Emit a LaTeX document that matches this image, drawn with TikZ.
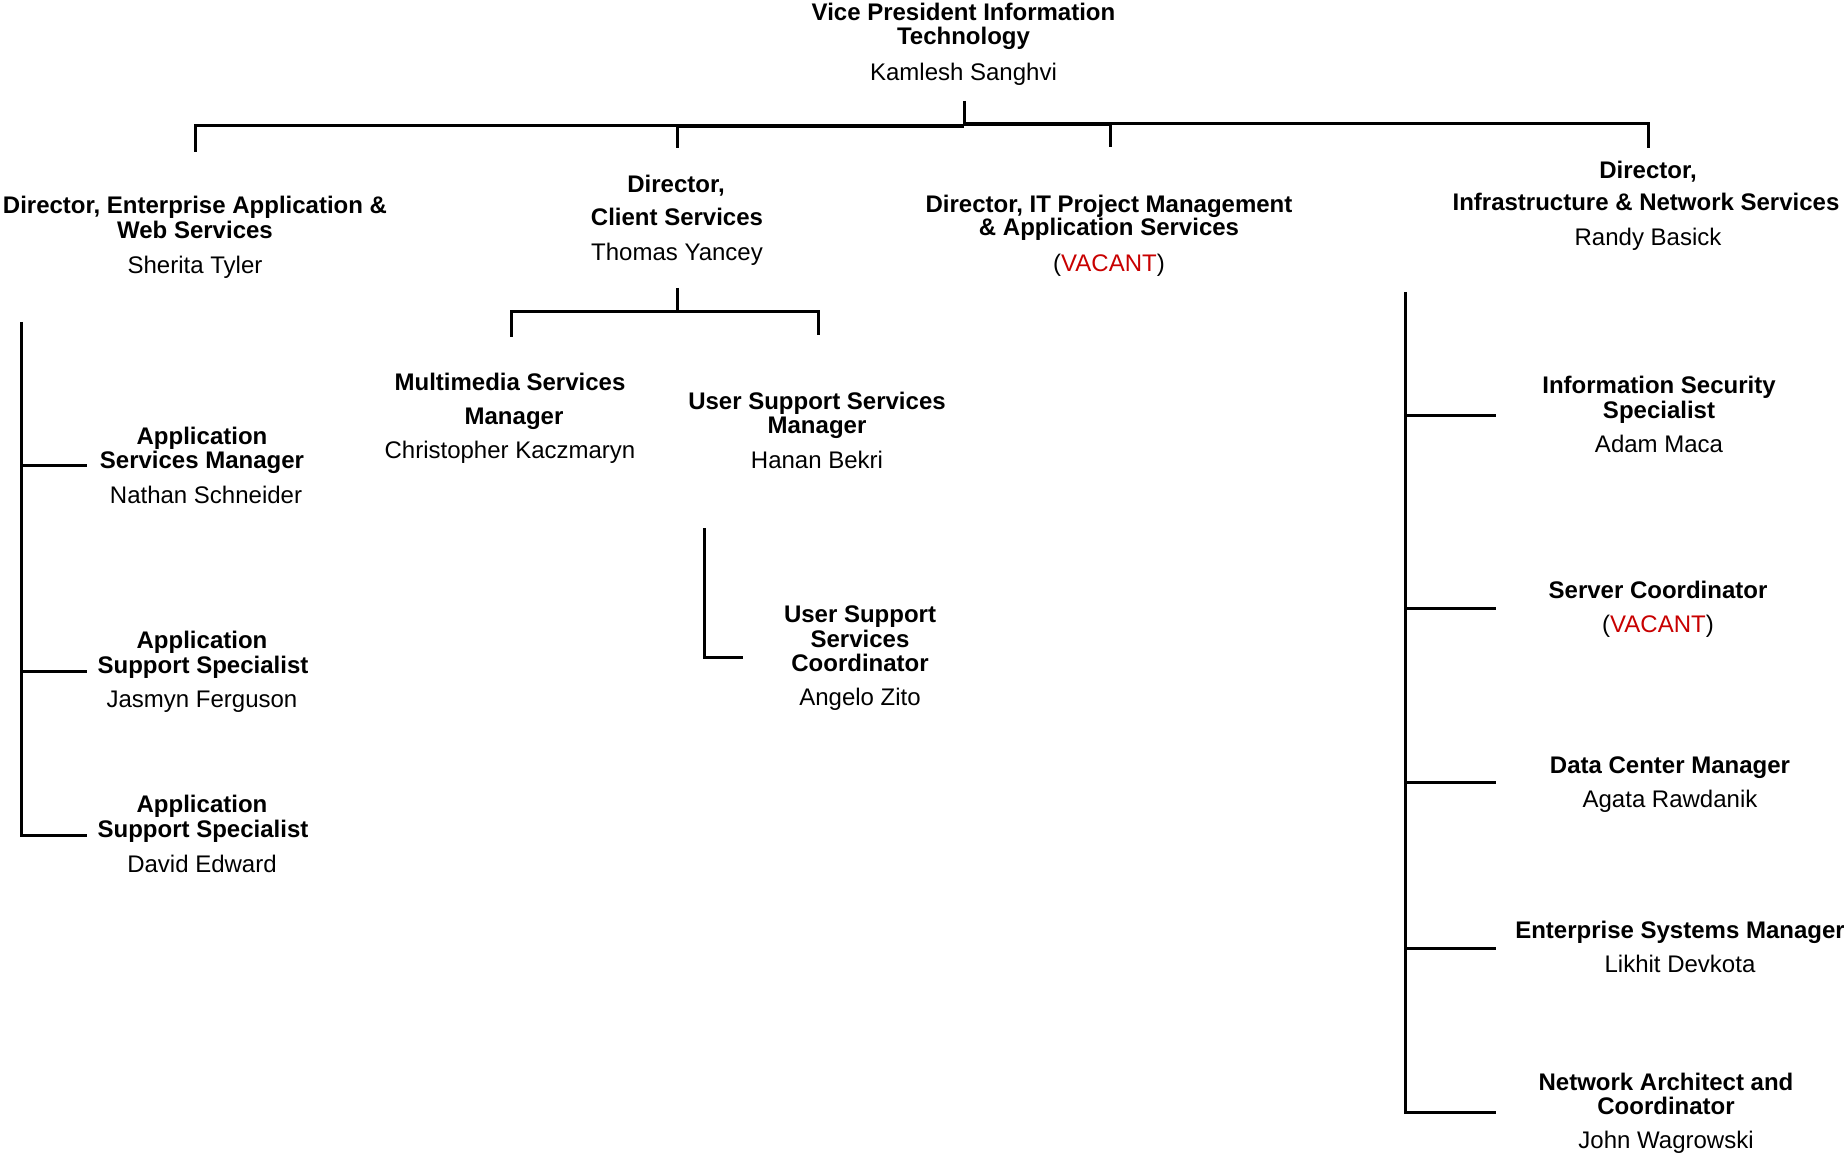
\documentclass[tikz,border=0pt]{standalone}
\usepackage{fontspec}
\setmainfont{Liberation Sans}
\definecolor{vac}{RGB}{200,0,0}
\begin{document}
\begin{tikzpicture}[x=1pt,y=-1pt,
  ttl/.style={anchor=base,inner sep=0pt,font=\fontsize{24}{26}\selectfont\bfseries},
  nm/.style={anchor=base,inner sep=0pt,font=\fontsize{24}{26}\selectfont},
  ln/.style={line width=3pt,line join=miter},
  bar/.style={line width=4.8pt}]
\useasboundingbox (0,0) rectangle (1844,1155);
\newcommand{\vac}{(\textcolor{vac}{VACANT})}

% --- VP
\node[ttl] (vp1) at (963.5,21) {Vice President Information};
\node[ttl] (vp2) at (963.5,45) {Technology};
\node[nm]  (vp3) at (963.5,81) {Kamlesh Sanghvi};

% --- Directors
\node[ttl] (da1) at (195,214) {Director, Enterprise Application \&};
\node[ttl] (da2) at (195,239) {Web Services};
\node[nm]  (da3) at (195,274) {Sherita Tyler};

\node[ttl] (db1) at (676,193) {Director,};
\node[ttl] (db2) at (677,226) {Client Services};
\node[nm]  (db3) at (677,261) {Thomas Yancey};

\node[ttl] (dc1) at (1109,213) {Director, IT Project Management};
\node[ttl] (dc2) at (1109,236) {\& Application Services};
\node[nm]  (dc3) at (1109,272) {\vac};

\node[ttl] (dd1) at (1648,179) {Director,};
\node[ttl] (dd2) at (1646,211) {Infrastructure \& Network Services};
\node[nm]  (dd3) at (1648,246) {Randy Basick};

% --- Client services reports
\node[ttl] (mm1) at (510,390) {Multimedia Services};
\node[ttl] (mm2) at (514,424) {Manager};
\node[nm]  (mm3) at (510,458) {Christopher Kaczmaryn};

\node[ttl] (us1) at (817,409) {User Support Services};
\node[ttl] (us2) at (817,433) {Manager};
\node[nm]  (us3) at (817,468) {Hanan Bekri};

\node[ttl] (uc1) at (860,622) {User Support};
\node[ttl] (uc2) at (860,647) {Services};
\node[ttl] (uc3) at (860,671) {Coordinator};
\node[nm]  (uc4) at (860,705) {Angelo Zito};

% --- Enterprise application reports
\node[ttl] (la1) at (202,444) {Application};
\node[ttl] (la2) at (202,468) {Services Manager};
\node[nm]  (la3) at (206,503) {Nathan Schneider};

\node[ttl] (lb1) at (202,648) {Application};
\node[ttl] (lb2) at (203,673) {Support Specialist};
\node[nm]  (lb3) at (202,707) {Jasmyn Ferguson};

\node[ttl] (lc1) at (202,812) {Application};
\node[ttl] (lc2) at (203,837) {Support Specialist};
\node[nm]  (lc3) at (202,872) {David Edward};

% --- Infrastructure reports
\node[ttl] (ra1) at (1659,393) {Information Security};
\node[ttl] (ra2) at (1659,418) {Specialist};
\node[nm]  (ra3) at (1659,452) {Adam Maca};

\node[ttl] (rb1) at (1658,598) {Server Coordinator};
\node[nm]  (rb2) at (1658,632) {\vac};

\node[ttl] (rc1) at (1670,773) {Data Center Manager};
\node[nm]  (rc2) at (1670,807) {Agata Rawdanik};

\node[ttl] (rd1) at (1680,938) {Enterprise Systems Manager};
\node[nm]  (rd2) at (1680,972) {Likhit Devkota};

\node[ttl] (re1) at (1666,1090) {Network Architect and};
\node[ttl] (re2) at (1666,1114) {Coordinator};
\node[nm]  (re3) at (1666,1148) {John Wagrowski};

% --- connector points
\coordinate (vpT) at (964,101);
\coordinate (vpJ) at (964,125);
\coordinate (aT) at (195,152);
\coordinate (aJ) at (195,126);
\coordinate (bT) at (677,148);
\coordinate (bJ) at (677,126);
\coordinate (cT) at (1110,147);
\coordinate (cJ) at (1110,124);
\coordinate (vpL) at (964,126);
\coordinate (vpR) at (964,124);
\coordinate (dT) at (1648,148);
\coordinate (dJ) at (1648,124);

\coordinate (bS) at (677,288);
\coordinate (bS2) at (677,312);
\coordinate (mmT) at (511,337);
\coordinate (mmJ) at (511,312);
\coordinate (usT) at (818,335);
\coordinate (usJ) at (818,312);

\coordinate (ucA) at (704,528);
\coordinate (ucB) at (704,657);
\coordinate (ucC) at (743,657);

\coordinate (lTop) at (21.7,322);
\coordinate (lBot) at (21.7,835);
\coordinate (lA) at (21.7,465);
\coordinate (lAe) at (87,465);
\coordinate (lB) at (21.7,671);
\coordinate (lBe) at (87,671);
\coordinate (lCe) at (87,835);

\coordinate (rTop) at (1405,292);
\coordinate (rBot) at (1405,1112);
\coordinate (rA) at (1405,415);
\coordinate (rAe) at (1496,415);
\coordinate (rB) at (1405,608);
\coordinate (rBe) at (1496,608);
\coordinate (rC) at (1405,782);
\coordinate (rCe) at (1496,782);
\coordinate (rD) at (1405,948);
\coordinate (rDe) at (1496,948);
\coordinate (rEe) at (1496,1112);

% --- connectors
\draw[ln] (vpT) -- (vpJ);
\draw[ln] (aT) -- (aJ) -- (bJ);
\draw[bar] (bJ) -- (vpL);
\draw[bar] (vpR) -- (cJ);
\draw[ln] (cJ) -- (dJ) -- (dT);
\draw[ln] (bJ) -- (bT);
\draw[ln] (cJ) -- (cT);

\draw[ln] (bS) -- (bS2);
\draw[ln] (mmT) -- (mmJ) -- (usJ) -- (usT);

\draw[ln] (ucA) -- (ucB) -- (ucC);

\draw[ln] (lTop) -- (lBot) -- (lCe);
\draw[ln] (lA) -- (lAe);
\draw[ln] (lB) -- (lBe);

\draw[ln] (rTop) -- (rBot) -- (rEe);
\draw[ln] (rA) -- (rAe);
\draw[ln] (rB) -- (rBe);
\draw[ln] (rC) -- (rCe);
\draw[ln] (rD) -- (rDe);
\end{tikzpicture}
\end{document}
